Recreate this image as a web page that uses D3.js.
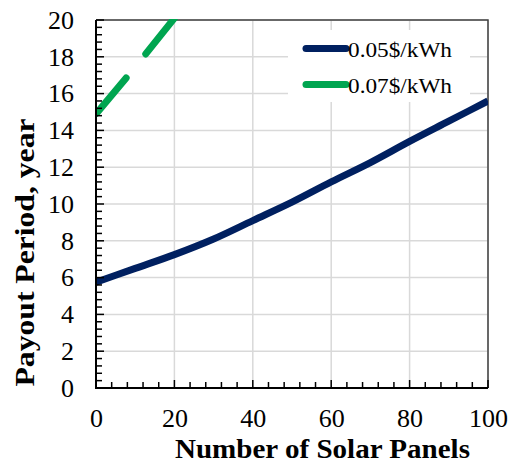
<!DOCTYPE html>
<html><head><meta charset="utf-8">
<script src="https://cdn.jsdelivr.net/npm/d3@7"></script>
<style>body{margin:0;background:#fff} text{font-family:"Liberation Serif","Times New Roman",serif}</style>
</head><body><svg id="c" width="510" height="468"></svg>
<script>
const xTicks = [0, 20, 40, 60, 80, 100];
const yTicks = [0, 2, 4, 6, 8, 10, 12, 14, 16, 18, 20];
const panels05 = [0, 10, 20, 30, 40, 50, 60, 70, 80, 90, 100];
const payout05 = [5.75, 6.5, 7.25, 8.1, 9.1, 10.1, 11.2, 12.25, 13.4, 14.5, 15.6];
const panels07 = [0, 10, 20];
const payout07 = [14.9, 17.45, 20.1];
const seriesNames = ["0.05$/kWh", "0.07$/kWh"];
const colors = ["#002060", "#00A550"];

const svg = d3.select("#c");
const m = {l: 96, t: 20, r: 488, b: 388};
const x = d3.scaleLinear().domain([0, 100]).range([m.l, m.r]);
const y = d3.scaleLinear().domain([0, 20]).range([m.b, m.t]);
const serif = '"Liberation Serif","Times New Roman",serif';

// grid
svg.append("g").selectAll("line").data(yTicks.slice(1)).join("line")
  .attr("x1", m.l).attr("x2", m.r).attr("y1", d => y(d)).attr("y2", d => y(d))
  .attr("stroke", "#d9d9d9").attr("stroke-width", 1.5);
svg.append("g").selectAll("line").data(xTicks.slice(1)).join("line")
  .attr("y1", m.t).attr("y2", m.b).attr("x1", d => x(d)).attr("x2", d => x(d))
  .attr("stroke", "#d9d9d9").attr("stroke-width", 1.5);

// frame top/right
svg.append("path").attr("d", `M${m.l},${m.t}H${m.r}V${m.b}`).attr("fill", "none")
  .attr("stroke", "#404040").attr("stroke-width", 1.5);

svg.append("clipPath").attr("id", "clp").append("rect")
  .attr("x", m.l).attr("y", m.t - 1).attr("width", m.r - m.l).attr("height", m.b - m.t + 1);

// legend box (behind lines)
svg.append("rect").attr("x", 288).attr("y", 30).attr("width", 182).attr("height", 72).attr("fill", "#fff");

const line = d3.line().x(d => x(d[0])).y(d => y(d[1])).curve(d3.curveMonotoneX);
const g = svg.append("g").attr("clip-path", "url(#clp)");
g.append("path").datum(panels05.map((p, i) => [p, payout05[i]]))
  .attr("d", line).attr("fill", "none").attr("stroke", colors[0]).attr("stroke-width", 7);
g.append("path").datum(panels07.map((p, i) => [p, payout07[i]]))
  .attr("d", line).attr("fill", "none").attr("stroke", colors[1]).attr("stroke-width", 7)
  .attr("stroke-linecap", "round").attr("stroke-dasharray", "47,31");

// axes
const xAxis = d3.axisBottom(x).tickValues(xTicks).tickSize(0).tickPadding(21).tickFormat(d3.format("d"));
const xa = svg.append("g").attr("transform", `translate(0,${m.b})`).call(xAxis);
xa.select(".domain").remove();
xa.attr("font-family", serif).attr("font-size", 26);
xa.selectAll("text").style("font-family", serif).style("font-size", "26px").attr("fill", "#000");
const yAxis = d3.axisLeft(y).tickValues(yTicks).tickSize(0).tickPadding(22);
const ya = svg.append("g").attr("transform", `translate(${m.l},0)`).call(yAxis);
ya.select(".domain").remove();
ya.attr("font-family", serif).attr("font-size", 26);
ya.selectAll("text").style("font-family", serif).style("font-size", "26px").attr("fill", "#000");

// tick marks (inward)
const xMinor = d3.range(0, 100.01, 4);
svg.append("g").selectAll("line").data(xMinor).join("line")
  .attr("x1", d => x(d)).attr("x2", d => x(d)).attr("y1", m.b)
  .attr("y2", d => m.b - (d % 20 === 0 ? 8 : 6)).attr("stroke", "#000").attr("stroke-width", 1.5);
const yMinor = d3.range(0, 20.01, 0.4);
svg.append("g").selectAll("line").data(yMinor).join("line")
  .attr("y1", d => y(d)).attr("y2", d => y(d)).attr("x1", m.l)
  .attr("x2", d => m.l + (Math.abs(d / 2 - Math.round(d / 2)) < 1e-6 ? 8 : 6)).attr("stroke", "#000").attr("stroke-width", 1.5);

svg.append("path").attr("d", `M${m.l},${m.t}V${m.b}H${m.r}`).attr("fill", "none")
  .attr("stroke", "#000").attr("stroke-width", 2);

// legend
seriesNames.forEach((s, i) => {
  const yy = 48.5 + i * 36;
  svg.append("line").attr("x1", 306).attr("x2", 346).attr("y1", yy).attr("y2", yy)
    .attr("stroke", colors[i]).attr("stroke-width", 7).attr("stroke-linecap", "round");
  svg.append("text").attr("x", 348).attr("y", yy + 8).style("font-family", serif)
    .style("font-size", "22px").attr("textLength", 104).attr("lengthAdjust", "spacingAndGlyphs").text(s);
});

// titles
svg.append("text").attr("x", 322.5).attr("y", 458).attr("text-anchor", "middle")
  .style("font-family", serif).style("font-weight", "bold").style("font-size", "28px")
  .attr("textLength", 295).attr("lengthAdjust", "spacingAndGlyphs").text("Number of Solar Panels");
svg.append("text").attr("transform", "translate(34,252.5) rotate(-90)").attr("text-anchor", "middle")
  .style("font-family", serif).style("font-weight", "bold").style("font-size", "28px")
  .attr("textLength", 268).attr("lengthAdjust", "spacingAndGlyphs").text("Payout Period, year");
</script></body></html>
